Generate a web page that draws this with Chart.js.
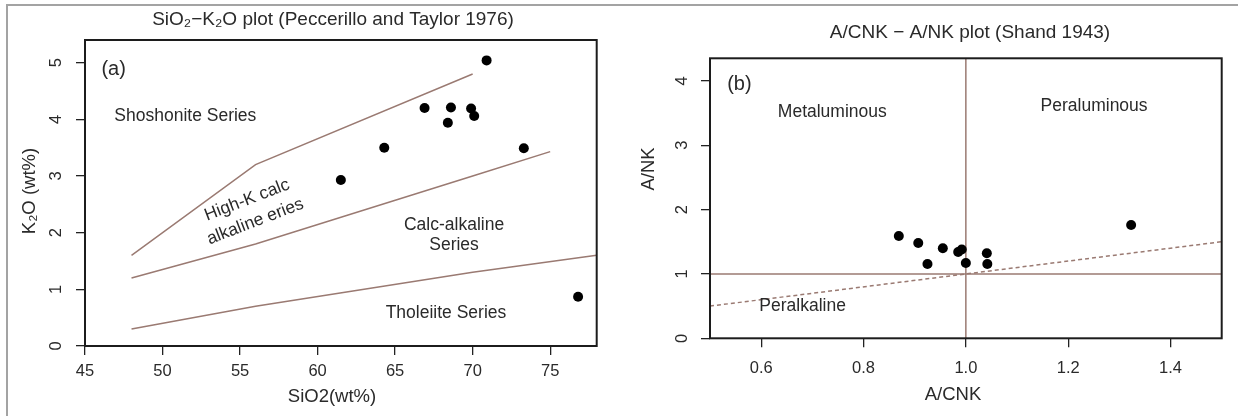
<!DOCTYPE html>
<html>
<head>
<meta charset="utf-8">
<script src="https://cdn.jsdelivr.net/npm/chart.js@4.4.1/dist/chart.umd.min.js"></script>
<style>
  html, body { margin: 0; padding: 0; background: #ffffff; }
  #wrap { position: relative; width: 1238px; height: 416px; overflow: hidden; background: #ffffff; }
  #frame { position: absolute; left: 6px; top: 4px; right: -4px; bottom: -4px; border-top: 2px solid #a3a3a3; border-left: 2px solid #a3a3a3; }
  canvas { position: absolute; top: 0; }
  #cA { left: 0; }
  #cB { left: 620px; }
</style>
</head>
<body>
<div id="wrap">
  <div id="frame"></div>
  <canvas id="cA" width="620" height="416"></canvas>
  <canvas id="cB" width="618" height="416"></canvas>
</div>
<script>
// ---------- Panel (a): SiO2 - K2O ----------
const sio2 = [61.5, 64.3, 66.9, 68.6, 68.4, 69.9, 70.1, 70.9, 73.3, 76.8];
const k2o  = [2.93, 3.50, 4.20, 4.21, 3.94, 4.19, 4.06, 5.04, 3.49, 0.87];
const shoshoniteBoundX = [48, 56, 70];
const shoshoniteBoundY = [1.6, 3.2, 4.8];
const highKBoundX = [48, 56, 70, 75];
const highKBoundY = [1.2, 1.8, 3.0, 3.43];
const tholeiiteBoundX = [48, 56, 70, 78];
const tholeiiteBoundY = [0.3, 0.7, 1.3, 1.6];
const xTicksA = [45, 50, 55, 60, 65, 70, 75];
const yTicksA = [0, 1, 2, 3, 4, 5];

// ---------- Panel (b): A/CNK - A/NK ----------
const acnk = [0.869, 0.907, 0.925, 0.955, 0.985, 0.992, 1.000, 1.041, 1.042, 1.323];
const ank  = [1.59, 1.48, 1.155, 1.40, 1.34, 1.38, 1.17, 1.32, 1.155, 1.76];
const vertLineX = [1.0, 1.0];
const vertLineY = [0, 4.35];
const horizLineX = [0.5, 1.5];
const horizLineY = [1.0, 1.0];
const peralkLineX = [0.5, 1.5];
const peralkLineY = [0.5, 1.5];
const xTicksB = [0.6, 0.8, 1.0, 1.2, 1.4];
const yTicksB = [0, 1, 2, 3, 4];

const FONT = '"Liberation Sans", Arial, Helvetica, sans-serif';
const TEXT = '#2a2a2a';
const LINE = '#9a7a72';

const pts = (xs, ys) => xs.map((x, i) => ({x: x, y: ys[i]}));

const textPlugin = {
  id: 'panelText',
  afterDraw(chart, args, opts) {
    const ctx = chart.ctx;
    const xs = chart.scales.x, ys = chart.scales.y;
    for (const t of opts.items) {
      let px, py;
      if (t.data) { px = xs.getPixelForValue(t.x); py = ys.getPixelForValue(t.y); }
      else { px = t.x - opts.offsetX; py = t.y; }
      ctx.save();
      ctx.translate(px, py);
      ctx.rotate((t.rot || 0) * Math.PI / 180);
      ctx.font = (t.size || 17.5) + 'px ' + FONT;
      ctx.fillStyle = TEXT;
      ctx.textAlign = 'center';
      ctx.textBaseline = 'middle';
      const lines = Array.isArray(t.text) ? t.text : [t.text];
      const lh = t.lh || (t.size || 17.5) * 1.15;
      lines.forEach((l, i) => ctx.fillText(l, 0, (i - (lines.length - 1) / 2) * lh));
      ctx.restore();
    }
  }
};

const boxPlugin = {
  id: 'plotBox',
  afterDraw(chart) {
    const {ctx, chartArea: a} = chart;
    ctx.save();
    ctx.strokeStyle = '#1c1c1c';
    ctx.lineWidth = 2;
    ctx.strokeRect(a.left, a.top, a.right - a.left, a.bottom - a.top);
    ctx.restore();
  }
};

function axisX(min, max, ticksArr, height, pad, fmt) {
  return {
    type: 'linear', min: min, max: max,
    afterBuildTicks: s => { s.ticks = ticksArr.map(v => ({value: v})); },
    afterFit: s => { s.height = height; },
    grid: { drawOnChartArea: false, drawTicks: true, tickLength: 9, color: '#222', lineWidth: 1.3 },
    border: { display: false },
    ticks: { font: {size: 16.5, family: FONT}, color: TEXT, padding: pad, minRotation: 0, maxRotation: 0,
             callback: v => fmt(v) }
  };
}
function axisY(min, max, ticksArr, width, pad) {
  return {
    type: 'linear', min: min, max: max,
    afterBuildTicks: s => { s.ticks = ticksArr.map(v => ({value: v})); },
    afterFit: s => { s.width = width; },
    grid: { drawOnChartArea: false, drawTicks: true, tickLength: 9, color: '#222', lineWidth: 1.3 },
    border: { display: false },
    ticks: { font: {size: 16.5, family: FONT}, color: TEXT, padding: pad, minRotation: 90, maxRotation: 90,
             crossAlign: 'center', callback: v => String(v) }
  };
}
const lineDs = (data, dash) => ({
  data: data, showLine: true, pointRadius: 0, borderColor: LINE, borderWidth: 1.5,
  borderDash: dash || [], fill: false, tension: 0
});
const common = {
  responsive: false, animation: false, devicePixelRatio: 1,
  plugins: { legend: {display: false}, tooltip: {enabled: false}, title: {display: false} },
  events: []
};

new Chart(document.getElementById('cA'), {
  type: 'scatter',
  data: { datasets: [
    { data: pts(sio2, k2o), pointRadius: 5, pointBackgroundColor: '#000', pointBorderWidth: 0, showLine: false },
    lineDs(pts(shoshoniteBoundX, shoshoniteBoundY)),
    lineDs(pts(highKBoundX, highKBoundY)),
    lineDs(pts(tholeiiteBoundX, tholeiiteBoundY))
  ]},
  options: Object.assign({}, common, {
    layout: { padding: { left: 0, top: 40, right: 23.3, bottom: 0 } },
    scales: {
      x: axisX(45, 78, xTicksA, 70, 6.8, v => String(v)),
      y: axisY(0, 5.4, yTicksA, 85, 14.7)
    },
    plugins: Object.assign({}, common.plugins, {
      panelText: { offsetX: 0, items: [
        { text: 'SiO\u2082\u2212K\u2082O plot (Peccerillo and Taylor 1976)', x: 333, y: 20, size: 19 },
        { text: 'SiO2(wt%)', x: 332, y: 396.7, size: 18.5 },
        { text: 'K\u2082O (wt%)', x: 29.6, y: 191, size: 18.5, rot: -90 },
        { text: '(a)', data: true, x: 46.85, y: 4.88, size: 20 },
        { text: 'Shoshonite Series', data: true, x: 51.47, y: 4.056 },
        { text: ['High-K calc', 'alkaline eries'], data: true, x: 55.72, y: 2.385, rot: -21, lh: 23 },
        { text: ['Calc-alkaline', 'Series'], data: true, x: 68.80, y: 1.952, lh: 19.5 },
        { text: 'Tholeiite Series', data: true, x: 68.28, y: 0.577 }
      ]}
    })
  }),
  plugins: [textPlugin, boxPlugin]
});

new Chart(document.getElementById('cB'), {
  type: 'scatter',
  data: { datasets: [
    { data: pts(acnk, ank), pointRadius: 5, pointBackgroundColor: '#000', pointBorderWidth: 0, showLine: false },
    lineDs(pts(vertLineX, vertLineY)),
    lineDs(pts(horizLineX, horizLineY)),
    lineDs(pts(peralkLineX, peralkLineY), [4, 3])
  ]},
  options: Object.assign({}, common, {
    layout: { padding: { left: 0, top: 58.3, right: 16.3, bottom: 0 } },
    scales: {
      x: axisX(0.5, 1.5, xTicksB, 77.7, 11.1, v => v.toFixed(1)),
      y: axisY(0, 4.35, yTicksB, 90, 13.7)
    },
    plugins: Object.assign({}, common.plugins, {
      panelText: { offsetX: 620, items: [
        { text: 'A/CNK \u2212 A/NK plot (Shand 1943)', x: 970, y: 33, size: 19 },
        { text: 'A/CNK', x: 953, y: 395, size: 18.5 },
        { text: 'A/NK', x: 649.3, y: 169, size: 18.5, rot: -90 },
        { text: '(b)', data: true, x: 0.5575, y: 3.94, size: 20 },
        { text: 'Metaluminous', data: true, x: 0.739, y: 3.509 },
        { text: 'Peraluminous', data: true, x: 1.2506, y: 3.613 },
        { text: 'Peralkaline', data: true, x: 0.681, y: 0.502 }
      ]}
    })
  }),
  plugins: [textPlugin, boxPlugin]
});
</script>
</body>
</html>
